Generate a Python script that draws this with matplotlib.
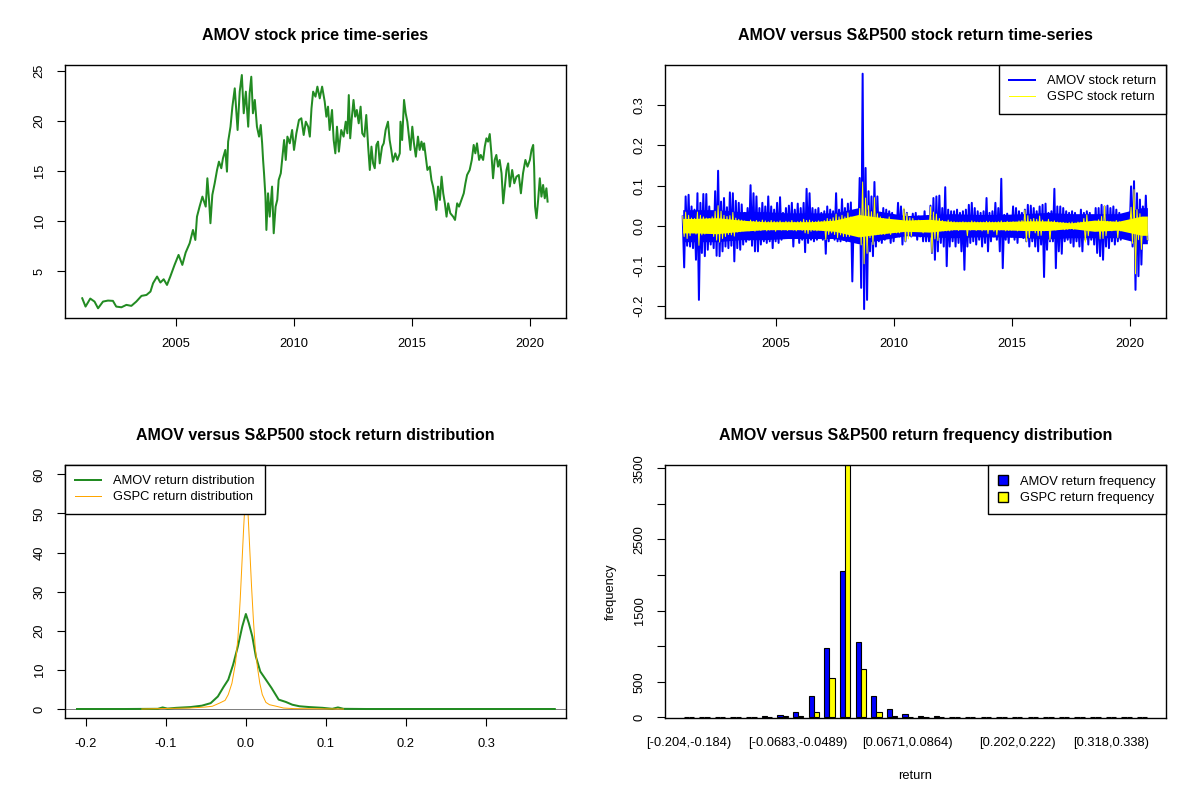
import numpy as np
import matplotlib
matplotlib.use("Agg")
import matplotlib.pyplot as plt
from matplotlib.lines import Line2D
from matplotlib.patches import Patch

plt.rcParams['font.family'] = ['Liberation Sans', 'DejaVu Sans']

# AMOV closing price (decimal year, price)
price_year = [2001.03, 2001.17, 2001.37, 2001.55, 2001.70, 2001.91, 2002.12, 2002.33, 2002.47, 2002.69,
              2002.90, 2003.11, 2003.32, 2003.54, 2003.75, 2003.92, 2004.03, 2004.20, 2004.34, 2004.48,
              2004.62, 2004.76, 2004.94, 2005.11, 2005.27, 2005.41, 2005.58, 2005.72, 2005.82, 2005.89,
              2006.00, 2006.12, 2006.26, 2006.33, 2006.40, 2006.46, 2006.54, 2006.64, 2006.74, 2006.82,
              2006.92, 2006.99, 2007.09, 2007.16, 2007.21, 2007.31, 2007.39, 2007.49, 2007.56, 2007.61,
              2007.70, 2007.79, 2007.87, 2007.96, 2008.06, 2008.12, 2008.19, 2008.26, 2008.34, 2008.43,
              2008.52, 2008.59, 2008.65, 2008.69, 2008.73, 2008.79, 2008.83, 2008.90, 2008.97, 2009.07,
              2009.14, 2009.22, 2009.29, 2009.35, 2009.44, 2009.51, 2009.58, 2009.65, 2009.72, 2009.82,
              2009.92, 2010.00, 2010.10, 2010.21, 2010.31, 2010.41, 2010.50, 2010.60, 2010.67, 2010.74,
              2010.81, 2010.91, 2010.99, 2011.09, 2011.19, 2011.30, 2011.37, 2011.44, 2011.51, 2011.61,
              2011.68, 2011.75, 2011.82, 2011.90, 2012.00, 2012.10, 2012.19, 2012.26, 2012.32, 2012.38,
              2012.44, 2012.52, 2012.59, 2012.66, 2012.74, 2012.82, 2012.89, 2012.98, 2013.06, 2013.14,
              2013.21, 2013.28, 2013.35, 2013.42, 2013.49, 2013.56, 2013.63, 2013.73, 2013.80, 2013.88,
              2013.98, 2014.05, 2014.12, 2014.19, 2014.29, 2014.38, 2014.48, 2014.51, 2014.58, 2014.66,
              2014.73, 2014.80, 2014.87, 2014.93, 2015.01, 2015.08, 2015.16, 2015.25, 2015.32, 2015.40,
              2015.47, 2015.51, 2015.58, 2015.65, 2015.75, 2015.82, 2015.89, 2015.96, 2016.03, 2016.10,
              2016.18, 2016.25, 2016.32, 2016.39, 2016.46, 2016.53, 2016.62, 2016.74, 2016.82, 2016.91,
              2016.99, 2017.09, 2017.19, 2017.26, 2017.33, 2017.44, 2017.53, 2017.61, 2017.68, 2017.75,
              2017.84, 2017.91, 2018.01, 2018.08, 2018.15, 2018.22, 2018.29, 2018.36, 2018.43, 2018.50,
              2018.57, 2018.64, 2018.71, 2018.79, 2018.86, 2018.93, 2019.00, 2019.07, 2019.14, 2019.24,
              2019.33, 2019.42, 2019.52, 2019.61, 2019.70, 2019.80, 2019.89, 2019.99, 2020.06, 2020.13,
              2020.17, 2020.21, 2020.27, 2020.34, 2020.41, 2020.48, 2020.55, 2020.62, 2020.69, 2020.74]
price = [2.31, 1.48, 2.28, 1.98, 1.31, 1.98, 2.08, 2.05, 1.48, 1.41,
         1.65, 1.55, 1.98, 2.55, 2.64, 2.98, 3.81, 4.48, 3.88, 4.21,
         3.64, 4.48, 5.64, 6.64, 5.64, 6.87, 7.80, 9.13, 8.13, 10.46,
         11.46, 12.46, 11.46, 14.29, 12.13, 9.80, 12.63, 13.79, 15.12, 15.95,
         15.29, 16.28, 17.12, 14.95, 17.95, 19.44, 21.44, 23.27, 20.78, 19.11,
         22.94, 24.60, 20.78, 22.94, 19.44, 22.77, 24.43, 20.78, 22.11, 19.44,
         18.45, 19.61, 17.78, 16.12, 14.79, 12.46, 9.13, 12.79, 10.46, 13.46,
         8.80, 11.46, 12.13, 14.12, 14.79, 16.45, 18.11, 16.12, 18.45, 17.78,
         19.11, 17.12, 18.78, 20.11, 20.28, 18.61, 19.94, 19.44, 18.45, 21.27,
         22.94, 22.44, 23.44, 22.27, 23.44, 21.94, 20.44, 21.44, 19.11, 21.11,
         18.11, 16.78, 19.44, 16.95, 19.11, 18.45, 19.94, 18.78, 22.60, 18.28,
         20.11, 22.11, 20.44, 21.11, 19.78, 21.44, 18.78, 18.45, 20.61, 17.45,
         15.12, 17.45, 15.78, 15.29, 17.62, 17.95, 15.78, 17.45, 17.78, 19.11,
         19.94, 18.11, 17.12, 15.95, 16.78, 16.12, 16.78, 19.94, 18.11, 22.11,
         20.78, 19.94, 18.45, 17.12, 19.44, 17.78, 16.45, 18.45, 17.12, 17.95,
         17.12, 17.78, 16.45, 15.12, 15.45, 14.12, 13.46, 12.46, 11.13, 13.46,
         12.13, 14.45, 12.79, 11.79, 10.46, 11.79, 10.80, 10.46, 10.13, 11.79,
         11.46, 12.13, 12.79, 13.79, 14.62, 15.12, 16.12, 17.62, 16.78, 17.78,
         16.12, 16.62, 16.12, 17.45, 18.28, 17.95, 18.71, 16.78, 14.29, 16.12,
         16.62, 15.45, 16.12, 14.79, 11.79, 13.46, 15.12, 15.78, 13.46, 15.12,
         13.79, 14.45, 14.62, 12.79, 14.79, 16.12, 15.45, 16.12, 17.12, 17.62,
         15.45, 11.46, 10.30, 12.13, 14.29, 12.46, 13.62, 12.29, 13.29, 11.96]

# daily returns summarised as high / low per 1/8 year, in percent
ret_start = 2001.05
ret_step = 0.125
amov_hi = [2.3, 7.3, 7.7, 4.8, 4.0, 8.1, 5.7, 7.9, 7.9, 4.8,
           3.0, 8.6, 13.7, 6.0, 6.9, 4.6, 8.3, 8.1, 6.2, 5.7,
           5.3, 3.2, 4.4, 10.1, 8.1, 7.3, 4.4, 5.7, 4.8, 7.3,
           4.8, 4.0, 5.7, 7.1, 3.2, 4.4, 5.0, 5.7, 4.0, 5.5,
           4.4, 5.7, 9.2, 8.1, 4.4, 4.0, 4.4, 3.2, 3.6, 4.8,
           4.0, 3.6, 8.1, 4.0, 6.6, 4.4, 5.5, 5.8, 3.2, 3.6,
           11.9, 37.9, 14.4, 8.6, 7.3, 10.9, 7.3, 3.2, 4.4, 4.0,
           3.6, 3.2, 2.3, 5.7, 4.8, 4.0, 3.2, 1.9, 3.0, 3.2,
           2.3, 1.9, 3.6, 2.3, 5.0, 6.9, 7.3, 7.5, 4.4, 9.6,
           4.0, 3.6, 3.6, 4.0, 3.2, 3.6, 4.0, 5.2, 5.7, 4.4,
           3.6, 3.2, 3.6, 6.9, 3.2, 3.6, 5.7, 4.4, 11.7, 2.7,
           3.0, 2.3, 4.8, 4.4, 3.6, 3.2, 4.0, 5.2, 5.0, 4.4,
           3.6, 4.8, 5.2, 5.5, 3.2, 3.6, 9.2, 4.8, 4.8, 4.4,
           3.6, 3.2, 3.6, 3.2, 2.3, 4.0, 3.2, 3.6, 3.2, 2.3,
           4.4, 4.4, 5.2, 4.8, 5.0, 4.4, 4.8, 4.0, 3.2, 2.3,
           2.7, 3.2, 9.8, 11.1, 8.1, 6.5, 4.8, 7.5]
amov_lo = [-10.4, -5.0, -5.2, -5.6, -8.5, -18.5, -6.8, -7.6, -6.0, -4.7,
           -5.6, -7.5, -7.6, -6.4, -5.2, -5.6, -5.0, -8.9, -5.6, -6.0,
           -4.7, -4.0, -3.5, -5.0, -6.4, -6.4, -4.7, -3.9, -4.3, -3.9,
           -5.6, -3.9, -4.3, -3.5, -3.1, -2.7, -3.1, -5.2, -2.7, -4.3,
           -3.5, -6.6, -4.3, -3.5, -3.9, -3.5, -3.1, -3.5, -7.0, -3.9,
           -2.7, -3.5, -3.9, -3.9, -3.5, -3.9, -3.1, -13.9, -3.5, -3.9,
           -15.5, -20.8, -18.5, -6.4, -7.6, -5.2, -3.9, -4.3, -3.5, -2.7,
           -4.3, -3.9, -1.8, -2.7, -4.7, -3.9, -1.8, -2.7, -2.3, -3.5,
           -2.7, -3.9, -3.9, -3.9, -6.8, -8.5, -6.4, -4.3, -5.2, -10.1,
           -5.2, -3.9, -5.2, -4.3, -6.4, -11.0, -5.2, -4.3, -3.9, -4.7,
           -3.5, -5.2, -4.3, -6.4, -3.9, -2.7, -3.5, -6.4, -10.6, -3.5,
           -4.3, -2.7, -3.5, -4.3, -2.7, -3.1, -3.9, -5.2, -3.9, -5.2,
           -6.4, -4.7, -12.8, -6.0, -3.9, -3.9, -10.6, -6.4, -7.0, -3.9,
           -3.5, -4.3, -5.2, -3.9, -5.2, -6.4, -3.5, -4.7, -3.5, -4.7,
           -6.8, -7.6, -8.5, -5.2, -5.6, -3.9, -4.7, -3.9, -3.5, -1.8,
           -2.3, -1.5, -5.2, -16.0, -12.6, -9.7, -3.9, -3.5]
gspc_hi = [2.3, 3.4, 2.6, 1.9, 1.8, 3.4, 2.6, 2.2, 1.9, 1.8,
           2.2, 3.6, 5.0, 3.6, 2.6, 2.3, 2.5, 3.3, 1.9, 1.6,
           1.4, 1.2, 1.0, 1.4, 1.1, 1.3, 1.0, 1.4, 1.2, 1.0,
           1.3, 1.1, 1.0, 1.2, 0.9, 1.1, 1.0, 1.3, 0.9, 1.0,
           1.1, 1.6, 1.3, 1.4, 1.1, 1.0, 1.2, 1.0, 1.3, 1.8,
           1.6, 2.0, 2.9, 2.2, 2.6, 2.2, 3.2, 2.2, 1.6, 2.2,
           4.3, 10.9, 6.9, 5.0, 3.5, 7.0, 3.0, 2.2, 1.8, 1.3,
           2.2, 1.3, 1.1, 1.3, 1.3, 4.4, 3.1, 2.0, 1.8, 1.3,
           1.4, 1.3, 0.9, 1.0, 4.7, 3.4, 2.9, 1.8, 1.3, 1.0,
           1.4, 1.1, 1.0, 0.9, 0.9, 1.0, 0.9, 0.9, 1.2, 1.0,
           0.9, 0.9, 0.9, 1.1, 1.0, 0.9, 0.9, 1.0, 1.2, 0.9,
           1.1, 0.9, 1.0, 0.9, 1.2, 1.3, 3.9, 2.5, 1.6, 1.8,
           1.6, 2.4, 1.4, 0.9, 1.6, 1.0, 1.2, 0.9, 0.8, 0.8,
           0.7, 0.8, 0.9, 0.7, 0.9, 0.9, 1.8, 2.7, 1.0, 0.9,
           0.9, 1.5, 2.3, 5.0, 1.1, 1.0, 0.9, 1.3, 1.0, 0.9,
           0.9, 0.9, 4.6, 9.0, 4.0, 3.0, 1.4, 1.8]
gspc_lo = [-2.7, -3.2, -2.5, -1.8, -2.1, -4.9, -2.3, -2.1, -1.8, -1.8,
           -2.7, -3.6, -4.1, -3.2, -2.7, -2.2, -2.3, -2.6, -1.6, -1.5,
           -1.3, -1.1, -1.3, -1.0, -1.4, -1.1, -1.2, -1.0, -1.3, -1.1,
           -1.0, -1.4, -0.9, -1.1, -1.0, -1.2, -0.9, -1.1, -1.3, -1.0,
           -1.2, -1.8, -2.0, -1.4, -1.2, -1.3, -1.1, -1.2, -3.5, -2.2,
           -1.8, -2.2, -3.0, -2.3, -2.7, -2.7, -2.7, -2.2, -1.8, -2.2,
           -4.8, -9.5, -6.9, -3.0, -4.7, -2.3, -2.2, -2.2, -2.2, -1.8,
           -2.2, -1.3, -1.8, -1.8, -1.3, -3.9, -3.3, -2.6, -1.3, -1.3,
           -0.9, -1.8, -1.1, -1.5, -6.7, -3.3, -3.7, -1.3, -1.3, -1.3,
           -1.3, -1.1, -1.0, -1.2, -0.9, -1.0, -2.5, -1.1, -0.9, -1.2,
           -1.0, -1.3, -1.1, -2.0, -1.0, -1.4, -2.3, -1.1, -1.0, -1.3,
           -1.2, -1.1, -0.9, -1.3, -1.0, -1.1, -3.9, -3.0, -1.3, -1.8,
           -2.5, -2.4, -1.3, -0.9, -3.6, -1.0, -1.1, -0.9, -0.8, -1.0,
           -0.9, -0.8, -0.9, -0.7, -0.9, -0.9, -4.1, -2.5, -0.9, -0.8,
           -0.9, -3.3, -3.2, -2.5, -1.1, -1.3, -1.0, -3.0, -1.3, -1.0,
           -0.9, -0.9, -4.4, -12.0, -3.5, -5.9, -0.9, -3.5]

# half-width of the solid (dense) part of each return band, in percent
core_year = [2001.05, 2001.5, 2002.5, 2003.5, 2004.5, 2005.5, 2006.5, 2007.5, 2008.5, 2009.5, 2010.5,
             2011.5, 2012.5, 2013.5, 2014.5, 2015.5, 2016.5, 2017.5, 2018.5, 2019.5, 2020.5, 2020.74]
amov_core = [4.0, 4.0, 4.0, 3.5, 3.5, 3.2, 3.2, 3.2, 4.5, 3.5, 2.5,
             2.8, 3.0, 2.8, 2.8, 3.0, 3.3, 3.0, 3.0, 3.0, 4.5, 4.5]
gspc_core = [1.8, 1.8, 2.0, 1.4, 1.0, 1.0, 1.0, 1.4, 2.8, 2.0, 1.4,
             1.6, 1.0, 1.0, 1.0, 1.2, 1.2, 0.7, 1.4, 1.1, 2.4, 2.4]

# kernel density curves
dens_amov_x = [-0.211, -0.15, -0.11, -0.104, -0.098, -0.087, -0.069, -0.055, -0.044, -0.035,
               -0.028, -0.022, -0.016, -0.010, -0.0045, 0.0, 0.0036, 0.008, 0.0125, 0.018,
               0.025, 0.032, 0.041, 0.050, 0.058, 0.067, 0.079, 0.096, 0.108, 0.115,
               0.122, 0.15, 0.386]
dens_amov_y = [0.0, 0.0, 0.05, 0.4, 0.1, 0.3, 0.5, 0.85, 1.5, 3.2,
               5.6, 7.5, 11.3, 16.0, 21.1, 24.3, 22.0, 18.6, 13.4, 9.6,
               7.5, 5.4, 2.4, 1.8, 1.1, 0.7, 0.5, 0.3, 0.05, 0.4,
               0.05, 0.0, 0.0]
dens_gspc_x = [-0.130, -0.0955, -0.07, -0.051, -0.042, -0.033, -0.026, -0.022, -0.0174, -0.013,
               -0.0098, -0.0071, -0.0049, -0.0027, -0.0018, 0.0005, 0.0027, 0.0049, 0.0071, 0.0094,
               0.0116, 0.0143, 0.0174, 0.0205, 0.025, 0.0295, 0.038, 0.047, 0.06, 0.09, 0.122]
dens_gspc_y = [0.0, 0.15, 0.25, 0.5, 0.7, 1.5, 2.2, 3.7, 6.6, 11.7,
               18.5, 27.9, 37.3, 46.6, 50.0, 58.0, 50.0, 40.7, 31.3, 22.8,
               16.0, 10.9, 6.6, 3.7, 1.7, 1.1, 0.7, 0.25, 0.1, 0.05, 0.0]

# return frequencies in 30 equal bins from -0.204 to 0.377
hist_amov = [1, 0, 1, 2, 4, 19, 33, 75, 300, 977, 2062, 1062, 300, 117, 47,
             14, 14, 3, 1, 1, 0, 0, 0, 0, 0, 0, 0, 0, 0, 1]
hist_gspc = [0, 0, 0, 1, 1, 9, 14, 19, 75, 554, 3574, 681, 75, 19, 5,
             4, 3, 0, 0, 0, 0, 0, 0, 0, 0, 0, 0, 0, 0, 0]
hist_tick_bins = [0, 7, 14, 21, 27]
hist_tick_labels = ["[-0.204,-0.184)", "[-0.0683,-0.0489)", "[0.0671,0.0864)",
                    "[0.202,0.222)", "[0.318,0.338)"]

FS = 9.3
PX = 0.72  # one pixel in points


def make_ax(left, top):
    ax = fig.add_axes([left / 1200, 1 - (top + 253) / 800, 501 / 1200, 253 / 800])
    for s in ax.spines.values():
        s.set_linewidth(1.0)
    ax.tick_params(direction='out', length=6, width=0.8, labelsize=FS, pad=8.5)
    return ax


def rot_y(ax):
    ax.tick_params(axis='y', labelrotation=90, pad=8)
    for t in ax.get_yticklabels():
        t.set_va('center')


def r_title(ax, text):
    ax.set_title(text, fontsize=11.5, fontweight='bold', pad=18)


fig = plt.figure(figsize=(12, 8), dpi=100)

# price series
ax1 = make_ax(65, 65)
ax1.plot(price_year, price, color='forestgreen', lw=2 * PX)
ax1.set_xlim(2000.30, 2021.52)
ax1.set_ylim(0.34, 25.6)
ax1.set_xticks([2005, 2010, 2015, 2020])
ax1.set_yticks([5, 10, 15, 20, 25])
rot_y(ax1)
r_title(ax1, "AMOV stock price time-series")

# return series
t = ret_start + ret_step * np.arange(len(amov_hi))
tt = np.column_stack([t, t + ret_step / 2]).ravel()
amov_line = np.column_stack([amov_hi, amov_lo]).ravel() / 100
gspc_line = np.column_stack([gspc_hi, gspc_lo]).ravel() / 100
amov_c = np.array(amov_core) / 100
gspc_c = np.array(gspc_core) / 100

ax2 = make_ax(665, 65)
ax2.fill_between(core_year, -amov_c, amov_c, color='blue', lw=0, zorder=1)
ax2.plot(tt, amov_line, color='blue', lw=2 * PX, zorder=2)
ax2.fill_between(core_year, -gspc_c, gspc_c, color='yellow', lw=0, zorder=3)
ax2.plot(tt, gspc_line, color='yellow', lw=PX, zorder=4)
ax2.set_xlim(2000.30, 2021.53)
ax2.set_ylim(-0.2302, 0.4007)
ax2.set_xticks([2005, 2010, 2015, 2020])
ax2.set_yticks([-0.2, -0.1, 0.0, 0.1, 0.2, 0.3])
ax2.set_yticklabels(["-0.2", "-0.1", "0.0", "0.1", "0.2", "0.3"])
rot_y(ax2)
r_title(ax2, "AMOV versus S&P500 stock return time-series")
leg = ax2.legend([Line2D([], [], color='blue', lw=2 * PX), Line2D([], [], color='yellow', lw=PX)],
                 ["AMOV stock return", "GSPC stock return"], loc='upper right',
                 fontsize=FS, frameon=True, fancybox=False, framealpha=1, edgecolor='black',
                 borderaxespad=0, borderpad=0.8, labelspacing=0.3, handlelength=2.0,
                 handletextpad=0.9)
leg.get_frame().set_linewidth(1.0)
leg.set_zorder(6)

# density
ax3 = make_ax(65, 465)
ax3.axhline(0, color='gray', lw=PX, zorder=1)
ax3.plot(dens_amov_x, dens_amov_y, color='forestgreen', lw=2 * PX, zorder=2)
ax3.plot(dens_gspc_x, dens_gspc_y, color='orange', lw=PX, zorder=3)
ax3.set_xlim(-0.226, 0.400)
ax3.set_ylim(-2.3, 62.4)
ax3.set_xticks([-0.2, -0.1, 0.0, 0.1, 0.2, 0.3])
ax3.set_xticklabels(["-0.2", "-0.1", "0.0", "0.1", "0.2", "0.3"])
ax3.set_yticks([0, 10, 20, 30, 40, 50, 60])
rot_y(ax3)
r_title(ax3, "AMOV versus S&P500 stock return distribution")
leg = ax3.legend([Line2D([], [], color='forestgreen', lw=2 * PX), Line2D([], [], color='orange', lw=PX)],
                 ["AMOV return distribution", "GSPC return distribution"], loc='upper left',
                 fontsize=FS, frameon=True, fancybox=False, framealpha=1, edgecolor='black',
                 borderaxespad=0, borderpad=0.8, labelspacing=0.3, handlelength=2.0,
                 handletextpad=0.9)
leg.get_frame().set_linewidth(1.0)
leg.set_zorder(5)

# frequency bars
g = 3 * np.arange(len(hist_amov))
ax4 = make_ax(665, 465)
ax4.bar(g + 1, hist_amov, width=1, align='edge', color='blue', edgecolor='black', lw=0.8)
ax4.bar(g + 2, hist_gspc, width=1, align='edge', color='yellow', edgecolor='black', lw=0.8)
ax4.set_xlim(-2.56, 93.56)
ax4.set_ylim(-10, 3547)
ax4.set_xticks(g[hist_tick_bins] + 2)
ax4.set_xticklabels(hist_tick_labels)
ax4.tick_params(axis='x', length=0, pad=14)
yt = [0, 500, 1000, 1500, 2000, 2500, 3000, 3500]
ax4.set_yticks(yt)
ax4.set_yticklabels([str(v) if v in (0, 500, 1500, 2500, 3500) else "" for v in yt])
rot_y(ax4)
ax4.set_xlabel("return", fontsize=FS, labelpad=15)
ax4.set_ylabel("frequency", fontsize=FS, labelpad=12)
r_title(ax4, "AMOV versus S&P500 return frequency distribution")
leg = ax4.legend([Patch(facecolor='blue', edgecolor='black'), Patch(facecolor='yellow', edgecolor='black')],
                 ["AMOV return frequency", "GSPC return frequency"], loc='upper right',
                 fontsize=FS, frameon=True, fancybox=False, framealpha=1, edgecolor='black',
                 borderaxespad=0, borderpad=0.8, labelspacing=0.3, handlelength=0.8,
                 handleheight=0.8, handletextpad=0.9)
leg.get_frame().set_linewidth(1.0)

fig.savefig("out.png", dpi=100, facecolor='white')
